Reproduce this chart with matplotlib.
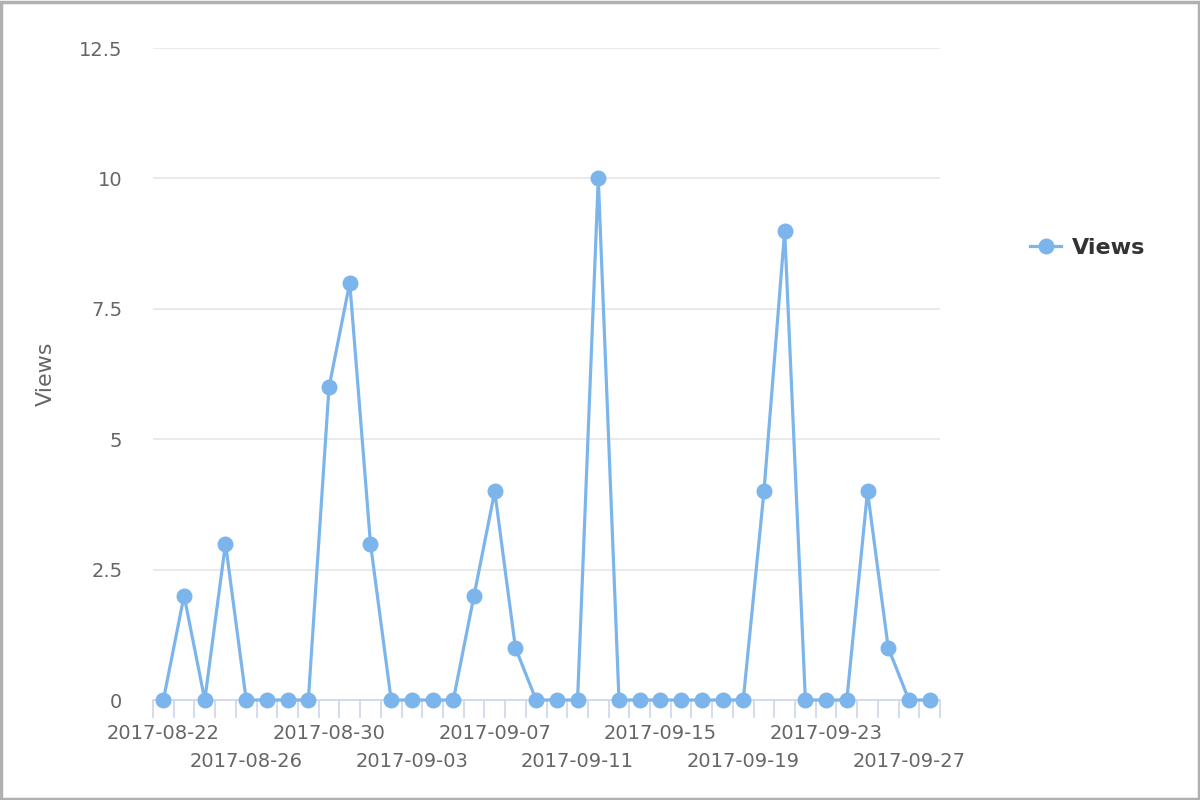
import numpy as np
import pandas as pd
import matplotlib
matplotlib.use("Agg")
import matplotlib.pyplot as plt
from matplotlib.patches import Rectangle

dates = pd.date_range("2017-08-22", "2017-09-28", freq="D").strftime("%Y-%m-%d").tolist()
views = [0, 2, 0, 3, 0, 0, 0, 0, 6, 8, 3, 0, 0, 0, 0, 2, 4, 1, 0, 0,
         0, 10, 0, 0, 0, 0, 0, 0, 0, 4, 9, 0, 0, 0, 4, 1, 0, 0]
y_ticks = [0, 2.5, 5, 7.5, 10, 12.5]
y_tick_labels = ["0", "2.5", "5", "7.5", "10", "12.5"]

plt.rcParams['font.family'] = ['DejaVu Sans']

fig = plt.figure(figsize=(12, 8), dpi=100)
ax = fig.add_axes([153/1200, 1 - 700/800, (940-153)/1200, (700-48)/800])

x = np.arange(len(dates))
color = '#7cb5ec'
ax.plot(x, views, color=color, lw=2.3, marker='o', markersize=11.5,
        markeredgewidth=0, label='Views', zorder=3, clip_on=False)

ax.set_xlim(-0.5, len(dates) - 0.5)
ax.set_ylim(0, 12.5)

ax.set_yticks(y_ticks)
ax.set_yticklabels(y_tick_labels)
ax.grid(axis='y', color='#e6e6e6', lw=1.2)
ax.set_axisbelow(True)

# labels every 4 days, alternating between two rows
row1 = list(range(0, len(dates), 8))
row2 = list(range(4, len(dates), 8))
ax.set_xticks(row1)
ax.set_xticklabels([dates[i] for i in row1])
ax.set_xticks(np.arange(len(dates) + 1) - 0.5, minor=True)
ax.tick_params(axis='x', which='major', length=0, pad=17.5, labelsize=14, labelcolor='#666666')
ax.tick_params(axis='x', which='minor', length=13, width=1.2, color='#ccd6eb')
ax.tick_params(axis='y', length=0, pad=22, labelsize=14, labelcolor='#666666')

sec = ax.secondary_xaxis('bottom')
sec.set_xticks(row2)
sec.set_xticklabels([dates[i] for i in row2])
sec.tick_params(axis='x', length=0, pad=37.5, labelsize=14, labelcolor='#666666')
sec.spines['bottom'].set_visible(False)

for s in ['top', 'right', 'left']:
    ax.spines[s].set_visible(False)
ax.spines['bottom'].set_color('#ccd6eb')
ax.spines['bottom'].set_linewidth(1.2)

ax.set_ylabel('Views', fontsize=16, color='#666666', labelpad=17)

leg = fig.legend(loc='center left', bbox_to_anchor=(1010/1200, 1 - 248/800),
                 frameon=False, handlelength=1.4, handletextpad=0.5,
                 prop={'size': 16, 'weight': 'bold'})
for t in leg.get_texts():
    t.set_color('#333333')

fig.patches.append(Rectangle((0.001, 0.001), 0.998, 0.997, transform=fig.transFigure,
                             fill=False, edgecolor='#b0b0b0', lw=2.5))

fig.savefig('out.png', dpi=100)
